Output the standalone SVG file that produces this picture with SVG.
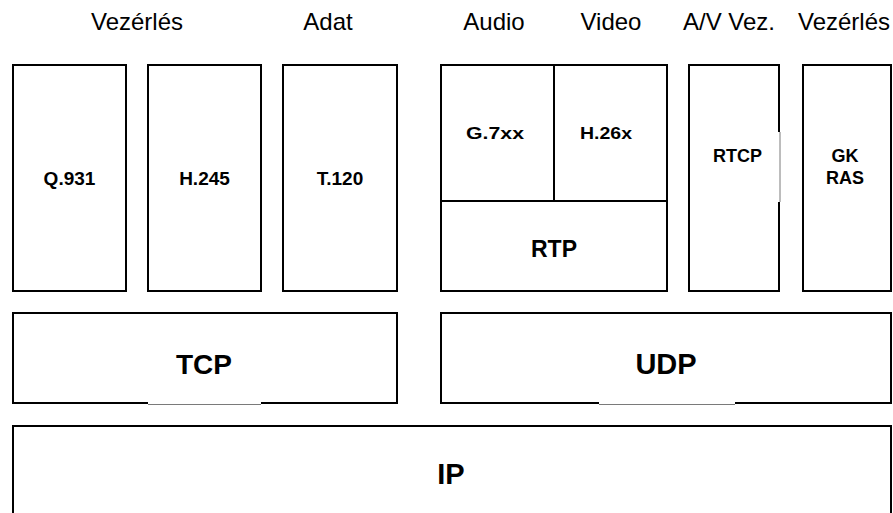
<svg xmlns="http://www.w3.org/2000/svg" width="893" height="513" viewBox="0 0 893 513">
<style>
.box{fill:#fff;stroke:#000;stroke-width:2}
.ln{stroke:#000;stroke-width:2;fill:none}
.gapw{stroke:#fff;stroke-width:3}
.gapg{stroke:#7a7a7a;stroke-width:1}
.hdr{font-family:"Liberation Sans",Arial,sans-serif;font-size:24px;fill:#000;text-anchor:middle}
.lbl{font-family:"Liberation Sans",Arial,sans-serif;font-weight:bold;fill:#000;text-anchor:middle}
</style>
<rect width="893" height="513" fill="#fff"/>
<g id="headers">
<text class="hdr" x="137" y="30">Vezérlés</text>
<text class="hdr" x="328" y="30">Adat</text>
<text class="hdr" x="494" y="30">Audio</text>
<text class="hdr" x="611" y="30">Video</text>
<text class="hdr" x="729" y="30">A/V Vez.</text>
<text class="hdr" x="844" y="30">Vezérlés</text>
</g>
<g id="q931">
<rect class="box" x="13" y="65" width="113" height="226"/>
<text class="lbl" x="69.5" y="185" font-size="19">Q.931</text>
</g>
<g id="h245">
<rect class="box" x="148" y="65" width="113" height="226"/>
<text class="lbl" x="204.5" y="185" font-size="19">H.245</text>
</g>
<g id="t120">
<rect class="box" x="283" y="65" width="114" height="226"/>
<text class="lbl" x="340" y="185" font-size="19">T.120</text>
</g>
<g id="media">
<rect class="box" x="441" y="65" width="226" height="226"/>
<line class="ln" x1="441" y1="201" x2="667" y2="201"/>
<line class="ln" x1="554" y1="65" x2="554" y2="201"/>
<g id="g7xx"><text class="lbl" x="495" y="139" font-size="17" textLength="58" lengthAdjust="spacingAndGlyphs">G.7xx</text></g>
<g id="h26x"><text class="lbl" x="606" y="139" font-size="17" textLength="52" lengthAdjust="spacingAndGlyphs">H.26x</text></g>
<g id="rtp"><text class="lbl" x="554" y="257" font-size="23">RTP</text></g>
</g>
<g id="rtcp">
<rect class="box" x="689" y="65" width="90" height="226"/>
<line class="gapw" x1="779" y1="132" x2="779" y2="202"/>
<line class="gapg" x1="780" y1="132" x2="780" y2="202"/>
<text class="lbl" x="737.5" y="162" font-size="18">RTCP</text>
</g>
<g id="gkras">
<rect class="box" x="803" y="65" width="88" height="226"/>
<text class="lbl" x="845" y="162" font-size="18">GK</text>
<text class="lbl" x="845" y="184" font-size="18">RAS</text>
</g>
<g id="tcp">
<rect class="box" x="13" y="313" width="384" height="90"/>
<line class="gapw" x1="148" y1="403" x2="261" y2="403"/>
<line class="gapg" x1="148" y1="404.5" x2="261" y2="404.5"/>
<text class="lbl" x="204" y="374" font-size="28">TCP</text>
</g>
<g id="udp">
<rect class="box" x="441" y="313" width="450" height="90"/>
<line class="gapw" x1="599" y1="403" x2="735" y2="403"/>
<line class="gapg" x1="599" y1="404.5" x2="735" y2="404.5"/>
<text class="lbl" x="666" y="374" font-size="29">UDP</text>
</g>
<g id="ip">
<rect class="box" x="13" y="426" width="878" height="120"/>
<text class="lbl" x="451" y="484" font-size="29">IP</text>
</g>
<g id="connectors"/>
</svg>
